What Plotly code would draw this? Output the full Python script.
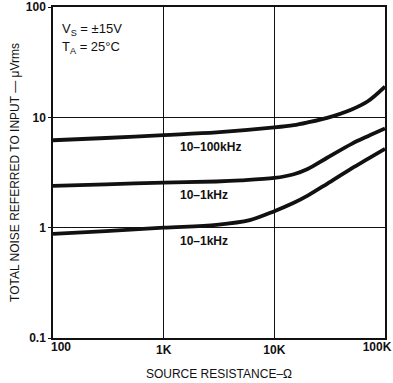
import math
import plotly.graph_objects as go

# Source resistance (ohms) and total noise (uVrms)
r_top = [100, 300, 1000, 3000, 10000, 15000, 20000, 30000, 50000, 70000, 100000]
n_top = [6.2, 6.5, 6.9, 7.3, 8.1, 8.5, 9.0, 9.9, 11.8, 14.0, 19.0]

r_mid = [100, 300, 1000, 3000, 5000, 10000, 15000, 20000, 30000, 50000, 70000, 100000]
n_mid = [2.39, 2.47, 2.56, 2.62, 2.68, 2.82, 3.05, 3.4, 4.3, 5.75, 6.75, 7.93]

r_bot = [100, 300, 1000, 3000, 6000, 10000, 15000, 20000, 30000, 50000, 70000, 100000]
n_bot = [0.88, 0.93, 1.0, 1.06, 1.17, 1.41, 1.68, 1.95, 2.5, 3.45, 4.2, 5.18]

x_tickvals = [100, 1000, 10000, 100000]
x_ticktext = ["100", "1K", "10K", "100K"]
y_tickvals = [0.1, 1, 10, 100]
y_ticktext = ["0.1", "1", "10", "100"]

curve_labels = ["10–100kHz", "10–1kHz", "10–1kHz"]
label_r = [1340, 1340, 1340]
label_n = [5.42, 1.98, 0.762]

FONT = "Liberation Sans, Arial, sans-serif"
INK = "#111111"
TICKFONT = dict(family=FONT, size=12, color=INK, weight="bold")

fig = go.Figure()
for xs, ys in [(r_top, n_top), (r_mid, n_mid), (r_bot, n_bot)]:
    fig.add_trace(go.Scatter(x=xs, y=ys, mode="lines",
                             line=dict(color=INK, width=3.8, shape="spline", smoothing=0.9),
                             showlegend=False, hoverinfo="skip"))
# the first curve repeated invisibly on the overlay axes, so those axes get drawn
for ax in ("x2", "x3"):
    fig.add_trace(go.Scatter(x=r_top, y=n_top, xaxis=ax, yaxis="y", mode="lines",
                             line=dict(color="rgba(0,0,0,0)", width=0),
                             showlegend=False, hoverinfo="skip"))

for t, lx, ly in zip(curve_labels, label_r, label_n):
    fig.add_annotation(x=math.log10(lx), y=math.log10(ly), xref="x", yref="y", text=t,
                       showarrow=False, xanchor="left", yanchor="middle",
                       font=dict(family=FONT, size=12, color=INK, weight="bold"))

fig.add_annotation(x=0.02, y=0.932, xref="paper", yref="paper",
                   text="V<sub>S</sub> = ±15V", showarrow=False, xanchor="left", yanchor="middle",
                   font=dict(family=FONT, size=13, color=INK))
fig.add_annotation(x=0.02, y=0.879, xref="paper", yref="paper",
                   text="T<sub>A</sub> = 25°C", showarrow=False, xanchor="left", yanchor="middle",
                   font=dict(family=FONT, size=13, color=INK))

axis_common = dict(showgrid=True, gridcolor=INK, gridwidth=1,
                   showline=True, linecolor=INK, linewidth=1.5, mirror=True,
                   zeroline=False, automargin=False, tickfont=TICKFONT)

xrange = [2, 5.0000001]
# middle labels on the main axis; end labels on overlay axes so they can sit inside the frame
main_text = ["" if i in (0, len(x_ticktext) - 1) else t for i, t in enumerate(x_ticktext)]
fig.update_xaxes(type="log", range=xrange, tickvals=x_tickvals, ticktext=main_text,
                 ticks="",
                 title=dict(text="SOURCE RESISTANCE–Ω", standoff=13,
                            font=dict(family=FONT, size=12, color=INK)),
                 **axis_common)
overlay_common = dict(type="log", range=xrange, overlaying="x", anchor="y", side="bottom",
                      showgrid=False, showline=False, zeroline=False, ticks="",
                      automargin=False, tickfont=TICKFONT, ticklabeloverflow="allow")
fig.update_layout(
    xaxis2=dict(tickvals=x_tickvals[:1], ticktext=x_ticktext[:1], ticklabelshift=8, **overlay_common),
    xaxis3=dict(tickvals=x_tickvals[-1:], ticktext=x_ticktext[-1:], ticklabelshift=-8, **overlay_common),
)
fig.update_yaxes(type="log", range=[-1, 2.0000001], tickvals=y_tickvals, ticktext=y_ticktext,
                 ticks="outside", ticklen=3, tickcolor=INK,
                 title=dict(text="TOTAL NOISE REFERRED TO INPUT — μVrms", standoff=4,
                            font=dict(family=FONT, size=12, color=INK)),
                 **axis_common)

fig.update_layout(width=393, height=383, margin=dict(l=53, r=8, t=7, b=45),
                  paper_bgcolor="white", plot_bgcolor="white")

fig.write_html("out.html", config={"displayModeBar": False},
               post_script="document.body.style.margin='0';")
